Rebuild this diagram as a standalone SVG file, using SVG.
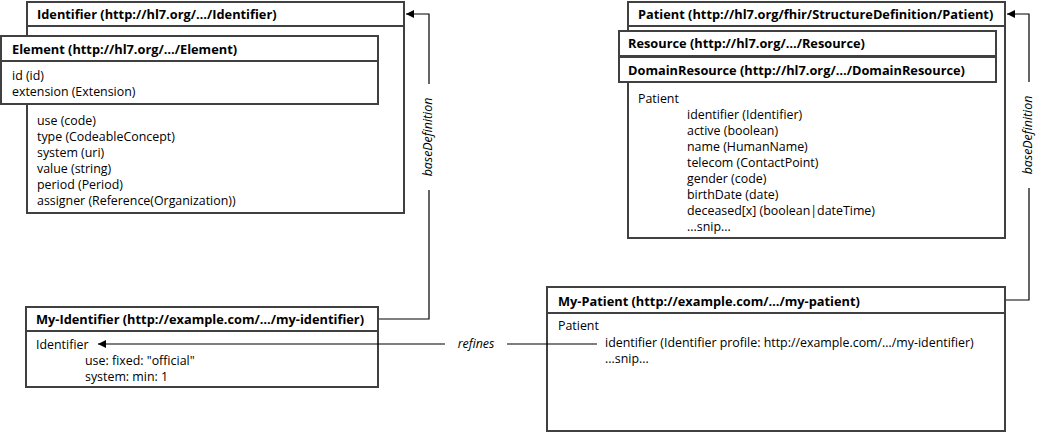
<svg xmlns="http://www.w3.org/2000/svg" width="1046" height="433" viewBox="0 0 1046 433">
<style>
.box{fill:#fff;stroke:#404040;stroke-width:2}
.sep{stroke:#404040;stroke-width:2}
text{font-family:"Open Sans","Noto Sans","Liberation Sans",sans-serif;font-size:12.4px;fill:#000}
.b{font-weight:bold;font-size:12.8px}
.i{font-style:italic}
.con{fill:none;stroke:#000;stroke-width:1.2}
</style>
<defs>
<marker id="ah" markerWidth="8" markerHeight="8" refX="8" refY="4" orient="auto" markerUnits="userSpaceOnUse">
<path d="M0,0 L8,4 L0,8 Z" fill="#000"/>
</marker>
</defs>
<rect width="1046" height="433" fill="#fff"/>
<g id="identifier">
<rect class="box" x="27" y="2" width="377" height="211"/>
<line class="sep" x1="27" y1="26" x2="404" y2="26"/>
<text class="b" x="37" y="19">Identifier (http://hl7.org/…/Identifier)</text>
<text x="37" y="125">use (code)</text>
<text x="37" y="141">type (CodeableConcept)</text>
<text x="37" y="157">system (uri)</text>
<text x="37" y="173">value (string)</text>
<text x="37" y="189">period (Period)</text>
<text x="37" y="205">assigner (Reference(Organization))</text>
</g>
<g id="element">
<rect class="box" x="1" y="36" width="377" height="68"/>
<line class="sep" x1="1" y1="61" x2="378" y2="61"/>
<text class="b" x="12" y="54">Element (http://hl7.org/…/Element)</text>
<text x="12" y="80">id (id)</text>
<text x="12" y="96">extension (Extension)</text>
</g>
<g id="patient">
<rect class="box" x="628" y="2" width="377" height="236"/>
<line class="sep" x1="628" y1="26" x2="1005" y2="26"/>
<text class="b" x="638" y="19">Patient (http://hl7.org/fhir/StructureDefinition/Patient)</text>
<text x="638" y="103">Patient</text>
<text x="687" y="119">identifier (Identifier)</text>
<text x="687" y="135">active (boolean)</text>
<text x="687" y="151">name (HumanName)</text>
<text x="687" y="167">telecom (ContactPoint)</text>
<text x="687" y="183">gender (code)</text>
<text x="687" y="199">birthDate (date)</text>
<text x="687" y="215">deceased[x] (boolean|dateTime)</text>
<text x="687" y="231">...snip...</text>
</g>
<g id="resource">
<rect class="box" x="619" y="31" width="377" height="25"/>
<text class="b" x="628" y="48">Resource (http://hl7.org/…/Resource)</text>
</g>
<g id="domainresource">
<rect class="box" x="619" y="57" width="377" height="25"/>
<text class="b" x="628" y="75">DomainResource (http://hl7.org/…/DomainResource)</text>
</g>
<g id="my-identifier">
<rect class="box" x="26" y="307" width="352" height="80"/>
<line class="sep" x1="26" y1="331" x2="378" y2="331"/>
<text class="b" x="36" y="324">My-Identifier  (http://example.com/…/my-identifier)</text>
<text x="36" y="349">Identifier</text>
<text x="85" y="365">use: fixed: "official"</text>
<text x="85" y="381">system: min: 1</text>
</g>
<g id="my-patient">
<rect class="box" x="547" y="287" width="458" height="144"/>
<line class="sep" x1="547" y1="313" x2="1005" y2="313"/>
<text class="b" x="558" y="306">My-Patient  (http://example.com/…/my-patient)</text>
<text x="558" y="330">Patient</text>
<text x="605" y="347">identifier  (Identifier  profile: http://example.com/…/my-identifier)</text>
<text x="605" y="363">...snip...</text>
</g>
<g id="connectors">
<path class="con" d="M379,319 H429 V190"/>
<path class="con" d="M429,84 V14 H406" marker-end="url(#ah)"/>
<text class="i" transform="translate(432,137) rotate(-90)" text-anchor="middle">baseDefinition</text>
<path class="con" d="M1006,300 H1029 V188"/>
<path class="con" d="M1029,82 V14 H1007" marker-end="url(#ah)"/>
<text class="i" transform="translate(1032,135) rotate(-90)" text-anchor="middle">baseDefinition</text>
<path class="con" d="M597,344 H507"/>
<path class="con" d="M445,344 H98" marker-end="url(#ah)"/>
<text class="i" x="476" y="348" text-anchor="middle">refines</text>
</g>
</svg>
